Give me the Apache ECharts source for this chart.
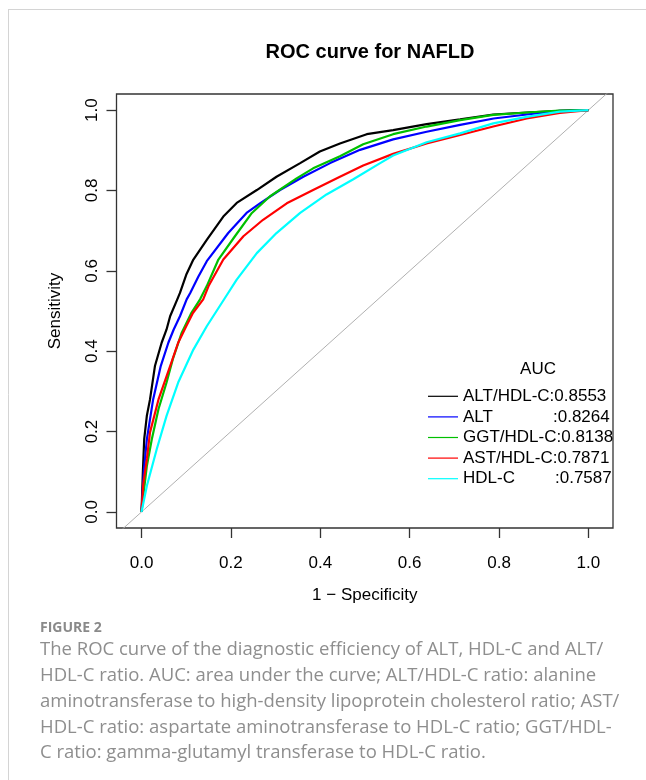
<!DOCTYPE html>
<html>
<head>
<meta charset="utf-8">
<script src="https://cdn.jsdelivr.net/npm/echarts@6/dist/echarts.min.js"></script>
<style>
html,body{margin:0;padding:0;background:#fff;}
#chart{width:646px;height:780px;}
</style>
</head>
<body>
<div id="chart"></div>
<script>
// ---- data ----
var seriesNames = ['ALT/HDL-C', 'ALT', 'GGT/HDL-C', 'AST/HDL-C', 'HDL-C'];
var aucValues = ['0.8553', '0.8264', '0.8138', '0.7871', '0.7587'];
var tickValues = [0, 0.2, 0.4, 0.6, 0.8, 1.0];

var rocAltHdl = [[0,0],[0.003,0.10],[0.006,0.181],[0.012,0.24],[0.019,0.28],[0.030,0.363],[0.045,0.421],[0.056,0.454],[0.064,0.487],[0.080,0.529],[0.086,0.545],[0.100,0.59],[0.116,0.628],[0.146,0.677],[0.183,0.735],[0.213,0.769],[0.258,0.801],[0.302,0.834],[0.355,0.868],[0.399,0.897],[0.444,0.917],[0.504,0.940],[0.563,0.950],[0.638,0.965],[0.713,0.977],[0.787,0.989],[0.862,0.994],[0.936,0.998],[1,1]];
var rocAlt = [[0,0],[0.005,0.10],[0.012,0.181],[0.026,0.280],[0.043,0.363],[0.060,0.421],[0.072,0.454],[0.086,0.487],[0.101,0.529],[0.109,0.545],[0.127,0.585],[0.146,0.624],[0.194,0.694],[0.235,0.744],[0.265,0.768],[0.310,0.801],[0.362,0.834],[0.422,0.868],[0.489,0.901],[0.563,0.927],[0.638,0.946],[0.713,0.963],[0.788,0.979],[0.862,0.989],[0.936,0.998],[1,1]];
var rocGgtHdl = [[0,0],[0.005,0.05],[0.012,0.115],[0.023,0.181],[0.038,0.256],[0.056,0.322],[0.070,0.380],[0.090,0.446],[0.112,0.496],[0.131,0.529],[0.146,0.562],[0.172,0.628],[0.209,0.686],[0.247,0.744],[0.287,0.785],[0.347,0.830],[0.384,0.855],[0.444,0.885],[0.496,0.915],[0.563,0.940],[0.638,0.959],[0.713,0.975],[0.787,0.988],[0.862,0.994],[0.936,0.999],[1,1]];
var rocAstHdl = [[0,0],[0.004,0.07],[0.012,0.132],[0.019,0.198],[0.038,0.280],[0.064,0.363],[0.082,0.421],[0.100,0.462],[0.115,0.495],[0.138,0.529],[0.150,0.562],[0.183,0.628],[0.228,0.686],[0.272,0.727],[0.325,0.768],[0.384,0.801],[0.444,0.834],[0.496,0.862],[0.563,0.891],[0.638,0.917],[0.713,0.938],[0.787,0.959],[0.862,0.979],[0.936,0.993],[1,1]];
var rocHdl = [[0,0],[0.012,0.065],[0.034,0.156],[0.056,0.239],[0.082,0.322],[0.116,0.404],[0.146,0.462],[0.187,0.533],[0.213,0.578],[0.258,0.644],[0.302,0.694],[0.355,0.744],[0.414,0.790],[0.474,0.828],[0.534,0.868],[0.563,0.887],[0.638,0.920],[0.713,0.942],[0.787,0.967],[0.862,0.983],[0.936,0.996],[1,1]];
var diagonal = [[-0.1,-0.1],[1.1,1.1]];

var captionLines = [
  'The ROC curve of the diagnostic efficiency of ALT, HDL-C and ALT/',
  'HDL-C ratio. AUC: area under the curve; ALT/HDL-C ratio: alanine',
  'aminotransferase to high-density lipoprotein cholesterol ratio; AST/',
  'HDL-C ratio: aspartate aminotransferase to HDL-C ratio; GGT/HDL-',
  'C ratio: gamma-glutamyl transferase to HDL-C ratio.'
];

// ---- chart ----
var colors = ['#000000', '#0000ff', '#00c000', '#ff0000', '#00ffff'];
var rocData = [rocAltHdl, rocAlt, rocGgtHdl, rocAstHdl, rocHdl];
var FONT = '"Liberation Sans", Arial, sans-serif';

var chart = echarts.init(document.getElementById('chart'), null, {renderer: 'canvas'});

var series = [{
  type: 'line', name: 'diag', data: diagonal, showSymbol: false, silent: true,
  lineStyle: {color: '#b0b0b0', width: 1}, itemStyle: {color: '#b0b0b0'}, z: 1
}];
seriesNames.forEach(function (n, i) {
  series.push({
    type: 'line', name: n, data: rocData[i], showSymbol: false, smooth: false,
    lineStyle: {color: colors[i], width: 2.2}, itemStyle: {color: colors[i]}, z: 2 + i
  });
});

var graphics = [
  {type: 'line', shape: {x1: 8, y1: 9.5, x2: 646, y2: 9.5}, style: {stroke: '#d4d4d4', lineWidth: 1}},
  {type: 'line', shape: {x1: 8.5, y1: 9.5, x2: 8.5, y2: 780}, style: {stroke: '#d4d4d4', lineWidth: 1}},
  {type: 'text', left: 40, top: 621, style: {text: 'FIGURE 2', fill: '#8a8a8a', font: 'bold 14px "Open Sans", sans-serif'}}
];
captionLines.forEach(function (t, i) {
  graphics.push({type: 'text', left: 40, top: 640.5 + i * 25.8, style: {text: t, fill: '#8e8e8e', font: '18.5px "Open Sans", sans-serif'}});
});

chart.setOption({
  animation: false,
  title: [
    {text: 'ROC curve for NAFLD', left: 365, top: 37, textAlign: 'center',
     textStyle: {fontFamily: FONT, fontSize: 20, fontWeight: 'bold', color: '#000'}},
    {text: 'AUC', left: 533, top: 356, textAlign: 'center',
     textStyle: {fontFamily: FONT, fontSize: 17, fontWeight: 'normal', color: '#000'}}
  ],
  grid: {left: 116.5, top: 94, width: 496.5, height: 434, show: true, borderColor: '#333', borderWidth: 1.3, backgroundColor: 'transparent'},
  xAxis: {
    type: 'value', min: -0.056, max: 1.055,
    name: '1 \u2212 Specificity', nameLocation: 'middle', nameGap: 59,
    nameTextStyle: {fontFamily: FONT, fontSize: 17, color: '#000'},
    axisLine: {show: false, onZero: false},
    splitLine: {show: false},
    axisTick: {show: true, inside: false, length: 10, customValues: tickValues, lineStyle: {color: '#333', width: 1.3}},
    axisLabel: {customValues: tickValues, margin: 27, fontFamily: FONT, fontSize: 17, color: '#000',
      formatter: function (v) { return v.toFixed(1); }}
  },
  yAxis: {
    type: 'value', min: -0.04, max: 1.04,
    name: 'Sensitivity', nameLocation: 'middle', nameGap: 53,
    nameTextStyle: {fontFamily: FONT, fontSize: 17, color: '#000'},
    axisLine: {show: false, onZero: false},
    splitLine: {show: false},
    axisTick: {show: true, inside: false, length: 10, customValues: tickValues, lineStyle: {color: '#333', width: 1.3}},
    axisLabel: {customValues: tickValues, rotate: 90, margin: 16, fontFamily: FONT, fontSize: 17, color: '#000',
      formatter: function (v) { return v.toFixed(1); }}
  },
  legend: {
    orient: 'vertical', left: 423, top: 381, itemWidth: 30, itemHeight: 1.2, icon: 'rect', itemGap: 0,
    selectedMode: false, data: seriesNames,
    textStyle: {fontFamily: FONT, fontSize: 17, color: '#000', lineHeight: 20.6,
      rich: {
        a: {fontFamily: FONT, fontSize: 17, color: '#000'},
        w1: {fontFamily: FONT, fontSize: 17, color: '#000', width: 90},
        w2: {fontFamily: FONT, fontSize: 17, color: '#000', width: 92}
      }},
    formatter: function (name) {
      var i = seriesNames.indexOf(name);
      var st = name === 'ALT' ? 'w1' : (name === 'HDL-C' ? 'w2' : 'a');
      return '{' + st + '|' + name + '}{a|:' + aucValues[i] + '}';
    }
  },
  graphic: graphics,
  series: series
});
</script>
</body>
</html>
